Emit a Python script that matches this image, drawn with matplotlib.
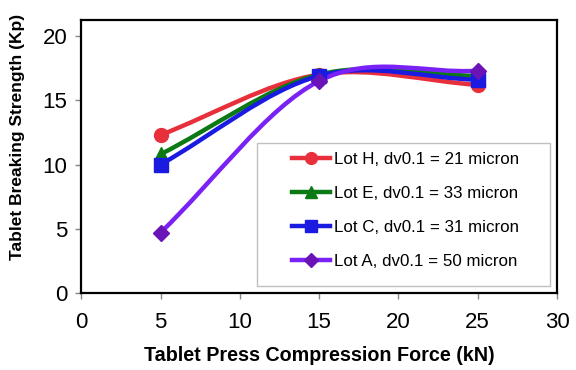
import matplotlib
matplotlib.use('Agg')
import matplotlib.pyplot as plt
from matplotlib.path import Path
from matplotlib.patches import PathPatch, Rectangle
from matplotlib.lines import Line2D
import numpy as np

plt.rcParams['font.family'] = ['Liberation Sans', 'DejaVu Sans']

# Data
force = [5, 15, 25]
lot_names = ['Lot H, dv0.1 = 21 micron', 'Lot E, dv0.1 = 33 micron',
             'Lot C, dv0.1 = 31 micron', 'Lot A, dv0.1 = 50 micron']
lot_h = [12.3, 17.0, 16.2]
lot_e = [10.8, 17.0, 16.9]
lot_c = [10.0, 16.9, 16.6]
lot_a = [4.7, 16.5, 17.3]

line_colors = ['#e8303c', '#0b7a14', '#1a1ae0', '#7a22f5']
marker_colors = ['#e8303c', '#0b7a14', '#1a1ae0', '#6a14b8']
markers = ['o', '^', 's', 'D']
msizes = [10, 10, 10, 8]


def smooth_path(xs, ys):
    # Excel-like smoothed line: cubic Bezier segments through the points
    pts = np.column_stack([xs, ys]).astype(float)
    n = len(pts)
    verts = [pts[0]]
    codes = [Path.MOVETO]
    for i in range(n - 1):
        p1 = pts[i]
        p2 = pts[i + 1]
        p0 = pts[i - 1] if i > 0 else 2 * p1 - p2
        p3 = pts[i + 2] if i + 2 < n else 2 * p2 - p1
        c1 = p1 + (p2 - p0) / 6.0
        c2 = p2 - (p3 - p1) / 6.0
        verts += [c1, c2, p2]
        codes += [Path.CURVE4] * 3
    return Path(verts, codes)


fig = plt.figure(figsize=(5.76, 3.70), dpi=100)
ax = fig.add_axes([0.141, 0.208, 0.826, 0.738])

series = [lot_h, lot_e, lot_c, lot_a]
handles = []
for vals, name, lc, mc, mk, ms in zip(series, lot_names, line_colors,
                                       marker_colors, markers, msizes):
    ax.add_patch(PathPatch(smooth_path(force, vals), facecolor='none',
                           edgecolor=lc, lw=3.2, capstyle='round', zorder=2))
    ax.plot(force, vals, linestyle='none', marker=mk, markersize=ms,
            color=mc, zorder=3)
    handles.append(Line2D([], [], color=lc, lw=3.2, marker=mk,
                          markersize=ms * 0.85, markerfacecolor=mc,
                          markeredgecolor=mc, label=name))

ax.set_xlim(0, 30)
ax.set_ylim(0, 21.25)
ax.set_xticks(range(0, 31, 5))
ax.set_yticks(range(0, 21, 5))
ax.tick_params(axis='both', labelsize=16, direction='out', length=4,
               width=1, color='#888888')
ax.tick_params(axis='x', pad=10)
ax.tick_params(axis='y', pad=6)
for side in ax.spines.values():
    side.set_linewidth(1.6)
    side.set_color('black')

ax.set_xlabel('Tablet Press Compression Force (kN)', fontsize=14.2,
              fontweight='bold')
ax.set_ylabel('Tablet Breaking Strength (Kp)', fontsize=12.5,
              fontweight='bold')
ax.xaxis.set_label_coords(0.5, -0.195)
ax.yaxis.set_label_coords(-0.118, 0.57)

# legend box drawn by hand so the padding can match the original
ax.add_patch(Rectangle((0.370, 0.026), 0.615, 0.525, transform=ax.transAxes,
                       facecolor='white', edgecolor='#c0c0c0', lw=1.0,
                       zorder=4))
leg = ax.legend(handles=handles, loc='upper left',
                bbox_to_anchor=(0.443, 0.515), fontsize=12.2, frameon=False,
                handlelength=2.25, labelspacing=1.12, borderpad=0,
                handletextpad=0.25, borderaxespad=0)
leg.set_zorder(5)

fig.savefig('out.png', dpi=100)
